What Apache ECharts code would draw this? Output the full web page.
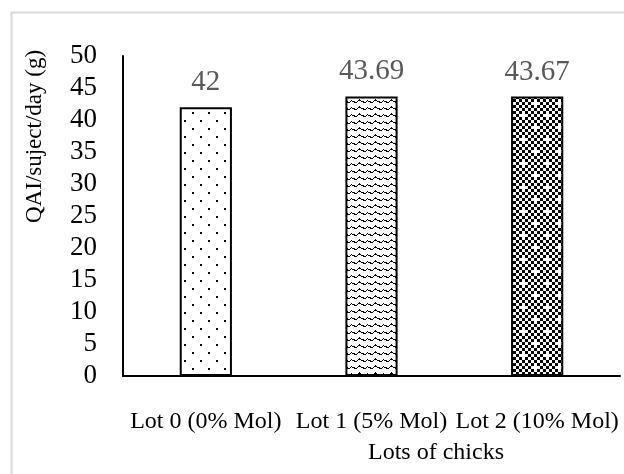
<!DOCTYPE html>
<html>
<head>
<meta charset="utf-8">
<script src="https://cdn.jsdelivr.net/npm/echarts@6/dist/echarts.min.js"></script>
<style>
  html, body { margin: 0; padding: 0; background: #fff; }
  #chart { width: 624px; height: 474px; }
</style>
</head>
<body>
<div id="chart"></div>
<script>
// Feed intake per lot
const categories = ['Lot 0 (0% Mol)', 'Lot 1 (5% Mol)', 'Lot 2 (10% Mol)'];
const intake = [42, 43.69, 43.67];
const yTicks = { min: 0, max: 50, interval: 5 };
const axisTitles = { x: 'Lots of chicks', y: 'QAI/suject/day (g)' };

const SERIF = "'Liberation Serif', 'Times New Roman', serif";

// Dotted fill: staggered 2px dots
function dotPattern() {
  const c = document.createElement('canvas');
  c.width = 16; c.height = 16;
  const g = c.getContext('2d');
  g.fillStyle = '#fff'; g.fillRect(0, 0, 16, 16);
  g.fillStyle = '#000';
  g.fillRect(0, 0, 2, 2);
  g.fillRect(8, 8, 2, 2);
  return c;
}

// Small wave fill
function wavePattern() {
  const c = document.createElement('canvas');
  c.width = 16; c.height = 7;
  const g = c.getContext('2d');
  g.fillStyle = '#fff'; g.fillRect(0, 0, 16, 7);
  g.fillStyle = '#000';
  const pts = [[0,3],[1,3],[2,4],[3,4],[4,4],[5,3],[6,2],[7,2],[8,2],[9,3],[10,3],[11,4],[12,4],[13,4],[14,3],[15,2]];
  pts.forEach(([x, y]) => g.fillRect(x, y, 1, 1));
  g.fillRect(2, 3, 1, 1); g.fillRect(7, 1, 1, 1); g.fillRect(11, 3, 1, 1);
  return c;
}

// Fine checkerboard with light plus-shaped spots
function checkPattern() {
  const s = 3, n = 8;
  const c = document.createElement('canvas');
  c.width = s * n; c.height = s * n;
  const g = c.getContext('2d');
  g.fillStyle = '#fff'; g.fillRect(0, 0, c.width, c.height);
  g.fillStyle = '#000';
  for (let i = 0; i < n; i++) {
    for (let j = 0; j < n; j++) {
      if ((i + j) % 2 === 0) g.fillRect(i * s, j * s, s, s);
    }
  }
  g.fillStyle = '#fff';
  const spots = [[2, 2], [6, 6]];
  spots.forEach(([i, j]) => {
    g.fillRect(i * s, j * s, s, s);
    g.fillRect((i - 1) * s, j * s, s, s);
    g.fillRect((i + 1) * s, j * s, s, s);
    g.fillRect(i * s, (j - 1) * s, s, s);
    g.fillRect(i * s, (j + 1) * s, s, s);
  });
  return c;
}

const fills = [dotPattern(), wavePattern(), checkPattern()];

const chart = echarts.init(document.getElementById('chart'), null, { renderer: 'canvas' });

chart.setOption({
  animation: false,
  backgroundColor: '#fff',
  textStyle: { fontFamily: SERIF },
  graphic: [{
    type: 'rect',
    left: 9, top: 10,
    shape: { width: 700, height: 600 },
    style: { fill: 'none', stroke: '#d9d9d9', lineWidth: 2 },
    silent: true
  }, {
    type: 'text',
    left: 368, top: 441,
    style: { text: axisTitles.x, font: '24px ' + SERIF, fill: '#000' }
  }, {
    type: 'text',
    x: 23, y: 223,
    rotation: Math.PI / 2,
    style: { text: axisTitles.y, font: '23px ' + SERIF, fill: '#000' }
  }],
  grid: { left: 123, right: 4, top: 56, bottom: 98, containLabel: false },
  xAxis: {
    type: 'category',
    data: categories,
    axisLine: { show: true, lineStyle: { color: '#000', width: 2 } },
    axisTick: { show: false },
    axisLabel: { interval: 0, color: '#000', fontSize: 24, fontFamily: SERIF, margin: 34 }
  },
  yAxis: {
    type: 'value',
    min: yTicks.min, max: yTicks.max, interval: yTicks.interval,
    axisLine: { show: true, lineStyle: { color: '#000', width: 2 } },
    axisTick: { show: false },
    splitLine: { show: false },
    axisLabel: { color: '#000', fontSize: 27, fontFamily: SERIF, margin: 26 }
  },
  series: [{
    type: 'bar',
    barWidth: '31.5%',
    data: intake.map((v, i) => ({
      value: v,
      itemStyle: { color: { image: fills[i], repeat: 'repeat' } }
    })),
    itemStyle: { borderColor: '#000', borderWidth: 2 },
    label: {
      show: true, position: 'top', distance: 10,
      color: '#595959', fontSize: 29, fontFamily: SERIF,
      formatter: p => String(p.value)
    }
  }]
});
</script>
</body>
</html>
